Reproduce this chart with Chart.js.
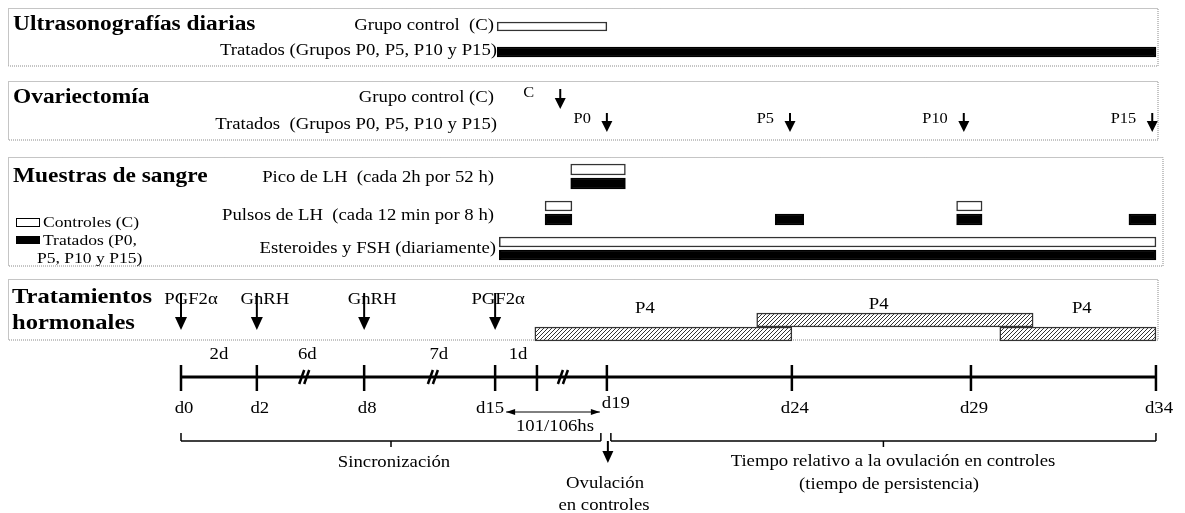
<!DOCTYPE html>
<html>
<head>
<meta charset="utf-8">
<script src="https://cdn.jsdelivr.net/npm/chart.js@4.4.0/dist/chart.umd.min.js"></script>
<style>
  html, body { margin: 0; padding: 0; background: #fff; }
  canvas { display: block; }
</style>
</head>
<body>
<canvas id="diagrama" width="1185" height="513"></canvas>
<script>
const ctx = document.getElementById('diagrama');

// dias marcados en el eje de tiempo
const ejeDias = [0, 2, 8, 15, 16, 19, 24, 29, 34];
const ejeEtiquetas = ['d0', 'd2', 'd8', 'd15', '', 'd19', 'd24', 'd29', 'd34'];
const intervalos = ['2d', '6d', '7d', '1d']; // duracion de los primeros tramos

// ultrasonografias diarias (dia inicio, dia fin)
const ecoControl = [[15.05, 19]];
const ecoTratados = [[15.05, 34]];

// ovariectomia
const ovxControlDia = 17;
const ovxGrupos = ['P0', 'P5', 'P10', 'P15'];
const ovxDias = [19, 23.95, 28.8, 33.9];

// muestras de sangre
const picoControl = [[17.45, 19.5]];
const picoTratados = [[17.45, 19.5]];
const pulsosControl = [[16.35, 17.5], [28.6, 29.3]];
const pulsosTratados = [[16.35, 17.5], [23.55, 24.33], [28.6, 29.3], [33.27, 34]];
const esteroidesControl = [[15.1, 34]];
const esteroidesTratados = [[15.1, 34]];

// tratamientos hormonales
const hormonas = ['PGF2\u03b1', 'GnRH', 'GnRH', 'PGF2\u03b1'];
const hormonaDias = [0, 2, 8, 15];
const p4Abajo = [[15.95, 24], [29.78, 34]];
const p4Arriba = [[23.05, 30.68]];

// donde cae cada dia marcado en el eje dibujado (los cortes // acortan tramos)
const posEje = [0, 2.05, 4.95, 8.49, 9.62, 11.51, 16.51, 21.35, 26.35];

function posDia(d) {
  for (let i = 1; i < ejeDias.length; i++) {
    if (d <= ejeDias[i] || i == ejeDias.length - 1) {
      let t = (d - ejeDias[i - 1]) / (ejeDias[i] - ejeDias[i - 1]);
      return posEje[i - 1] + t * (posEje[i] - posEje[i - 1]);
    }
  }
}

// rayado de las barras de P4
const rayado = document.createElement('canvas');
rayado.width = 4; rayado.height = 4;
const r = rayado.getContext('2d');
r.fillStyle = '#fff'; r.fillRect(0, 0, 4, 4);
r.strokeStyle = '#333'; r.lineWidth = 1;
r.beginPath(); r.moveTo(-1, 5); r.lineTo(5, -1); r.stroke();
r.beginPath(); r.moveTo(-1, 1); r.lineTo(1, -1); r.stroke();
r.beginPath(); r.moveTo(3, 5); r.lineTo(5, 3); r.stroke();
const patron = r.createPattern(rayado, 'repeat');

function barras(periodos, fila, relleno, grosor, borde) {
  return {
    data: periodos.map(p => ({ x: [posDia(p[0]), posDia(p[1])], y: fila })),
    backgroundColor: relleno,
    borderColor: borde || '#000',
    borderWidth: 1.5,
    borderSkipped: false,
    barThickness: grosor,
    grouped: false
  };
}

const fuente = "'Liberation Serif', 'DejaVu Serif', serif";
const estirar = 1.17; // el original tiene las letras algo ensanchadas

function texto(c, s, x, y, tam, alin, negrita) {
  c.save();
  c.font = (negrita ? 'bold ' : '') + tam + 'px ' + fuente;
  c.textAlign = alin || 'left';
  c.textBaseline = 'middle';
  c.fillStyle = '#000';
  c.translate(x, y);
  c.scale(estirar, 1);
  c.fillText(s, 0, 0);
  c.restore();
}

function flecha(c, x, y0, y1, ancho, alto) {
  c.strokeStyle = '#000';
  c.lineWidth = 2;
  c.beginPath(); c.moveTo(x, y0); c.lineTo(x, y1 - alto + 1); c.stroke();
  c.fillStyle = '#000';
  c.beginPath(); c.moveTo(x - ancho / 2, y1 - alto); c.lineTo(x + ancho / 2, y1 - alto); c.lineTo(x, y1); c.closePath(); c.fill();
}

function linea(c, x0, y0, x1, y1, w) {
  c.lineWidth = w;
  c.beginPath(); c.moveTo(x0, y0); c.lineTo(x1, y1); c.stroke();
}

const cajas = {
  id: 'cajas',
  beforeDatasetsDraw(chart) {
    const c = chart.ctx;
    c.save();
    c.strokeStyle = '#8a8a8a';
    c.lineWidth = 1;
    c.setLineDash([1, 1]);
    [[8.5, 8.5, 1158, 66], [8.5, 81.5, 1158, 140], [8.5, 157.5, 1163, 266], [8.5, 279.5, 1158, 340]].forEach(b => {
      c.strokeRect(b[0], b[1], b[2] - b[0], b[3] - b[1]);
    });
    c.restore();
  }
};

const textos = {
  id: 'textos',
  afterDatasetsDraw(chart) {
    const c = chart.ctx;
    const X = d => chart.scales.x.getPixelForValue(posDia(d));
    c.save();

    // panel 1
    texto(c, 'Ultrasonografías diarias', 13, 25, 20, 'left', true);
    texto(c, 'Grupo control  (C)', 494, 26, 16, 'right');
    texto(c, 'Tratados (Grupos P0, P5, P10 y P15)', 497, 51, 16, 'right');

    // panel 2
    texto(c, 'Ovariectomía', 13, 98, 20, 'left', true);
    texto(c, 'Grupo control (C)', 494, 98, 16, 'right');
    texto(c, 'Tratados  (Grupos P0, P5, P10 y P15)', 497, 125, 16, 'right');
    texto(c, 'C', X(ovxControlDia) - 26, 93, 14, 'right');
    flecha(c, X(ovxControlDia), 89, 109, 11, 11);
    ovxDias.forEach((d, i) => {
      texto(c, ovxGrupos[i], X(d) - 16, 119, 14, 'right');
      flecha(c, X(d), 113, 132, 11, 11);
    });

    // panel 3
    texto(c, 'Muestras de sangre', 13, 177, 20, 'left', true);
    texto(c, 'Pico de LH  (cada 2h por 52 h)', 494, 178, 16, 'right');
    texto(c, 'Pulsos de LH  (cada 12 min por 8 h)', 494, 216, 16, 'right');
    texto(c, 'Esteroides y FSH (diariamente)', 496, 249, 16, 'right');
    c.strokeStyle = '#000'; c.lineWidth = 1; c.setLineDash([]);
    c.strokeRect(16.5, 218.5, 23, 8);
    c.fillStyle = '#000'; c.fillRect(16, 236, 24, 8);
    texto(c, 'Controles (C)', 43, 223, 15);
    texto(c, 'Tratados (P0,', 43, 241, 15);
    texto(c, 'P5, P10 y P15)', 37, 259, 15);

    // panel 4
    texto(c, 'Tratamientos', 12, 298, 21, 'left', true);
    texto(c, 'hormonales', 12, 324, 21, 'left', true);
    const desfase = [10, 8, 8, 3];
    hormonaDias.forEach((d, i) => {
      texto(c, hormonas[i], X(d) + desfase[i], 300, 16, 'center');
      flecha(c, X(d), 293, 330, 12, 13);
    });
    const p4x = [X(p4Abajo[0][0]) + 110, X(p4Abajo[1][0]) + 82, X(p4Arriba[0][0]) + 122];
    p4Abajo.concat(p4Arriba).forEach((p, i) => {
      texto(c, 'P4', p4x[i], i == 2 ? 305 : 309, 16, 'center');
    });

    // eje de tiempo
    c.strokeStyle = '#000'; c.setLineDash([]);
    linea(c, X(ejeDias[0]), 377, X(ejeDias[ejeDias.length - 1]), 377, 3);
    ejeDias.forEach((d, i) => {
      linea(c, X(d), 365, X(d), 391, 2.5);
      if (ejeEtiquetas[i] == 'd15') texto(c, ejeEtiquetas[i], X(d) - 5, 409, 16, 'center');
      else if (ejeEtiquetas[i] == 'd19') texto(c, ejeEtiquetas[i], X(d) + 9, 404, 16, 'center');
      else if (ejeEtiquetas[i]) texto(c, ejeEtiquetas[i], X(d) + 3, 409, 16, 'center');
    });
    // cortes en los tramos d2-d8, d8-d15 y d16-d19 (tramo, fraccion)
    const cortes = [[1, 0.46], [2, 0.54], [4, 0.4]];
    cortes.forEach(k => {
      const xm = X(ejeDias[k[0]]) + k[1] * (X(ejeDias[k[0] + 1]) - X(ejeDias[k[0]]));
      linea(c, xm - 7, 384, xm - 2, 370, 2.5);
      linea(c, xm - 2, 384, xm + 3, 370, 2.5);
    });
    const posIntervalo = [X(1), X(2) + 0.47 * (X(8) - X(2)), X(8) + 0.57 * (X(15) - X(8)), (X(15) + X(16)) / 2 + 2];
    intervalos.forEach((s, i) => {
      texto(c, s, posIntervalo[i], 355, 16, 'center');
    });

    // 101/106 h
    const a0 = X(15) + 11, a1 = X(19) - 7;
    linea(c, a0, 412, a1, 412, 1);
    c.fillStyle = '#000';
    c.beginPath(); c.moveTo(a0, 412); c.lineTo(a0 + 9, 409); c.lineTo(a0 + 9, 415); c.fill();
    c.beginPath(); c.moveTo(a1, 412); c.lineTo(a1 - 9, 409); c.lineTo(a1 - 9, 415); c.fill();
    texto(c, '101/106hs', (a0 + a1) / 2 + 2, 427, 16, 'center');

    // llaves
    const llave = (x0, x1, xm) => {
      linea(c, x0, 433, x0, 441, 1.5);
      linea(c, x0, 441, x1, 441, 1.5);
      linea(c, x1, 433, x1, 441, 1.5);
      linea(c, xm, 441, xm, 447, 1.5);
    };
    llave(X(0), X(19) - 6, 391);
    llave(X(19) + 4, X(34), (X(19) + X(34)) / 2 + 2);
    texto(c, 'Sincronización', 394, 463, 16, 'center');
    texto(c, 'Tiempo relativo a la ovulación en controles', 893, 462, 16, 'center');
    texto(c, '(tiempo de persistencia)', 889, 485, 16, 'center');

    flecha(c, X(19) + 1, 441, 463, 11, 12);
    texto(c, 'Ovulación', 605, 484, 16, 'center');
    texto(c, 'en controles', 604, 506, 16, 'center');

    c.restore();
  }
};

new Chart(ctx, {
  type: 'bar',
  data: {
    datasets: [
      barras(ecoControl, 2.65, '#fff', 9, '#333'),
      barras(ecoTratados, 5.2, '#000', 10),
      barras(picoControl, 16.95, '#fff', 11, '#333'),
      barras(picoTratados, 18.35, '#000', 11),
      barras(pulsosControl, 20.6, '#fff', 10, '#333'),
      barras(pulsosTratados, 21.95, '#000', 11),
      barras(esteroidesControl, 24.2, '#fff', 10, '#333'),
      barras(esteroidesTratados, 25.5, '#000', 10),
      barras(p4Arriba, 32.0, patron, 14, '#333'),
      barras(p4Abajo, 33.4, patron, 14, '#333')
    ]
  },
  options: {
    indexAxis: 'y',
    responsive: false,
    animation: false,
    devicePixelRatio: 1,
    layout: { padding: 0 },
    plugins: { legend: { display: false }, tooltip: { enabled: false } },
    scales: {
      x: { type: 'linear', display: false, offset: false, min: -181 / 37, max: (1185 - 181) / 37 },
      y: { type: 'linear', display: false, offset: false, reverse: true, min: 0, max: 51.3 }
    }
  },
  plugins: [cajas, textos]
});
</script>
</body>
</html>
